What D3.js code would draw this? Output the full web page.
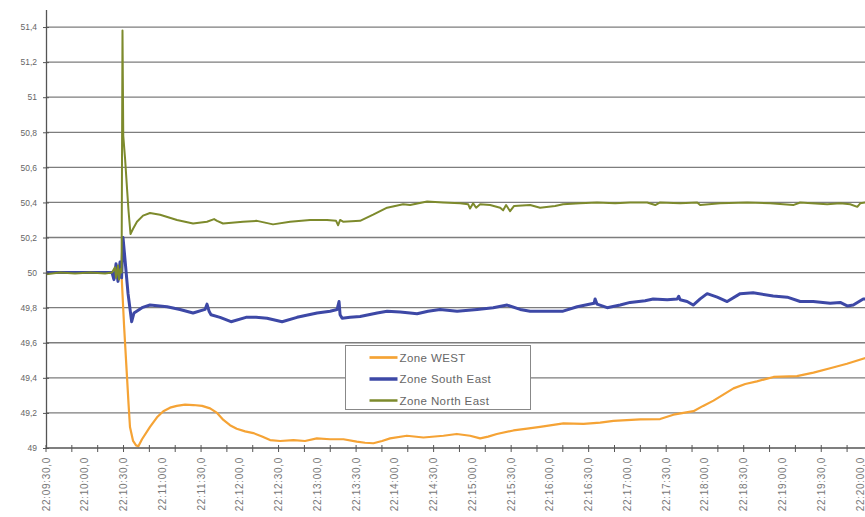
<!DOCTYPE html>
<html>
<head>
<meta charset="utf-8">
<script src="https://cdn.jsdelivr.net/npm/d3@7"></script>
<style>
  html, body { margin: 0; padding: 0; background: #fff; }
  svg { display: block; font-family: Arial, "Liberation Sans", sans-serif; }
</style>
</head>
<body>
<svg id="chart" width="865" height="517"></svg>
<script>
// Grid frequency (Hz) in three zones, seconds after 22:09:30
const seriesNames = ["Zone WEST", "Zone South East", "Zone North East"];
const seriesColors = ["#f5a335", "#3d48a6", "#7d8a2c"];

const westSec = [0, 56.5, 58.6, 60.4, 62.5, 63.9, 65.0, 67.4, 69.7, 71.5, 74.3, 80.5, 85.9, 90.8, 96.0,
  101.2, 107.6, 114.0, 120.8, 127.0, 132.4, 137.3, 142.4, 147.6, 154.1, 160.5, 167.2, 173.4, 181.2,
  191.5, 200.5, 209.6, 219.9, 230.2, 240.5, 246.9, 253.4, 260.1, 266.3, 279.3, 292.1, 307.6, 317.9,
  328.2, 336.0, 342.2, 348.9, 361.8, 372.4, 382.4, 400.5, 416.0, 428.9, 439.2, 459.9, 475.3, 485.6,
  501.1, 508.6, 516.6, 532.1, 541.2, 550.2, 563.1, 581.2, 594.0, 606.9, 619.9, 634.8];
const westHz = [50.0, 50.0, 49.97, 49.7, 49.43, 49.25, 49.12, 49.04, 49.015, 49.01, 49.05, 49.12, 49.175,
  49.21, 49.23, 49.24, 49.247, 49.245, 49.24, 49.226, 49.2, 49.16, 49.13, 49.11, 49.095, 49.085, 49.065,
  49.045, 49.04, 49.045, 49.04, 49.055, 49.05, 49.05, 49.036, 49.03, 49.027, 49.04, 49.055, 49.07, 49.06,
  49.07, 49.08, 49.07, 49.055, 49.065, 49.08, 49.10, 49.11, 49.12, 49.14, 49.137, 49.145, 49.155, 49.163,
  49.165, 49.19, 49.21, 49.24, 49.27, 49.34, 49.365, 49.38, 49.405, 49.41, 49.43, 49.455, 49.48, 49.515];

const southEastSec = [0, 51.1, 52.6, 54.2, 55.7, 57.3, 58.5, 59.6, 61.2, 63.5, 66.3, 68.1, 70.2, 74.3, 80.5,
  93.7, 103.7, 113.8, 123.1, 124.6, 126.2, 127.7, 134.7, 143.2, 154.8, 162.6, 171.1, 182.7, 194.3, 209.8,
  219.9, 225.3, 226.8, 227.6, 229.2, 235.4, 243.1, 256.3, 264.0, 274.1, 281.8, 287.2, 295.7, 305.0, 318.2,
  333.7, 346.1, 356.9, 367.0, 374.7, 390.2, 400.2, 411.1, 424.2, 425.0, 426.5, 434.3, 444.4, 452.1, 463.7,
  469.9, 480.8, 488.5, 489.7, 490.8, 496.2, 500.9, 506.3, 511.7, 519.5, 527.2, 537.3, 547.3, 562.8, 573.7,
  583.7, 593.8, 606.9, 614.7, 620.1, 624.8, 632.5, 634.8];
const southEastHz = [50.0, 50.0, 49.96, 50.05, 49.95, 50.06, 49.97, 50.2, 50.07, 49.88, 49.72, 49.77, 49.78,
  49.80, 49.815, 49.805, 49.79, 49.77, 49.79, 49.82, 49.78, 49.76, 49.745, 49.72, 49.745, 49.745, 49.74,
  49.72, 49.745, 49.77, 49.78, 49.79, 49.835, 49.76, 49.74, 49.745, 49.75, 49.77, 49.78, 49.775, 49.77,
  49.765, 49.78, 49.79, 49.78, 49.79, 49.80, 49.815, 49.79, 49.78, 49.78, 49.78, 49.805, 49.825, 49.85,
  49.82, 49.80, 49.815, 49.83, 49.84, 49.85, 49.845, 49.85, 49.865, 49.845, 49.835, 49.815, 49.85, 49.88,
  49.86, 49.835, 49.88, 49.885, 49.867, 49.86, 49.835, 49.835, 49.825, 49.83, 49.81, 49.815, 49.85, 49.85];

const northEastSec = [0, 10.8, 22.5, 34.1, 45.7, 51.1, 53.4, 54.2, 55.7, 56.5, 57.7, 58.5, 59.2, 59.8, 61.2,
  62.7, 63.9, 65.4, 67.4, 70.4, 75.1, 80.5, 88.3, 101.4, 113.8, 124.6, 130.1, 132.4, 137.0, 152.5, 163.3,
  175.7, 188.9, 204.4, 217.5, 224.5, 226.1, 227.6, 229.9, 243.1, 253.2, 264.0, 276.4, 281.8, 295.0, 307.3,
  320.5, 326.7, 328.2, 330.6, 332.9, 336.0, 343.7, 351.5, 353.8, 356.1, 359.2, 362.3, 374.7, 382.4, 394.0,
  400.2, 413.4, 426.5, 440.5, 452.1, 465.3, 471.5, 475.3, 490.8, 504.0, 506.3, 521.8, 542.7, 560.5, 578.3,
  583.7, 604.6, 614.7, 622.4, 627.9, 630.2, 634.1];
const northEastHz = [49.99, 50.0, 49.995, 50.0, 49.995, 50.0, 50.03, 49.97, 50.04, 49.96, 50.02, 50.0, 51.38,
  50.78, 50.65, 50.48, 50.35, 50.22, 50.25, 50.29, 50.325, 50.34, 50.33, 50.30, 50.28, 50.29, 50.305, 50.295,
  50.28, 50.29, 50.295, 50.275, 50.29, 50.30, 50.30, 50.295, 50.27, 50.30, 50.29, 50.295, 50.33, 50.37, 50.39,
  50.385, 50.405, 50.40, 50.395, 50.39, 50.365, 50.395, 50.37, 50.39, 50.385, 50.37, 50.355, 50.385, 50.35,
  50.38, 50.385, 50.37, 50.38, 50.39, 50.395, 50.40, 50.395, 50.40, 50.40, 50.385, 50.40, 50.395, 50.40,
  50.385, 50.395, 50.40, 50.395, 50.385, 50.40, 50.39, 50.395, 50.39, 50.375, 50.395, 50.40];

const yTicks = [49, 49.2, 49.4, 49.6, 49.8, 50, 50.2, 50.4, 50.6, 50.8, 51, 51.2, 51.4];
const labelStepSec = 30;   // time label every 30 s
const tickStepSec = 20;    // tick mark every 20 s
const axisEndSec = 630;    // 22:20:00

const START = new Date(2006, 10, 4, 22, 9, 30);
const at = s => new Date(START.getTime() + s * 1000);

const svg = d3.select("#chart");
const W = 865;

const x = d3.scaleTime().domain([START, at(axisEndSec)]).range([46, 860]);
const y = d3.scaleLinear().domain([49, 51.5]).range([448, 9.5]);

// horizontal gridlines
svg.append("g")
  .selectAll("line")
  .data(yTicks.filter(v => v > 49))
  .join("line")
  .attr("x1", 46).attr("x2", W)
  .attr("y1", d => y(d)).attr("y2", d => y(d))
  .attr("stroke", "#7d7d7d").attr("stroke-width", 1.3);

// series
const series = [
  { name: seriesNames[0], color: seriesColors[0], w: 2.2, sec: westSec, hz: westHz },
  { name: seriesNames[1], color: seriesColors[1], w: 3, sec: southEastSec, hz: southEastHz },
  { name: seriesNames[2], color: seriesColors[2], w: 2, sec: northEastSec, hz: northEastHz }
];

svg.append("clipPath").attr("id", "plot-clip")
  .append("rect").attr("x", 46).attr("y", 0).attr("width", W - 46).attr("height", 448);

const line = d3.line().x(d => x(d[0])).y(d => y(d[1]));

svg.append("g").attr("clip-path", "url(#plot-clip)")
  .selectAll("path")
  .data(series)
  .join("path")
  .attr("fill", "none")
  .attr("stroke", d => d.color)
  .attr("stroke-width", d => d.w)
  .attr("stroke-linejoin", "round")
  .attr("d", d => line(d.sec.map((s, i) => [at(s), d.hz[i]])));

// y axis
const fmtHz = v => d3.format("~g")(v).replace(".", ",");
const yAxis = svg.append("g")
  .attr("transform", "translate(46,0)")
  .call(d3.axisLeft(y).tickValues(yTicks).tickFormat(fmtHz).tickSizeInner(3).tickSizeOuter(0).tickPadding(6));
yAxis.select(".domain").attr("stroke", "#555").attr("stroke-width", 1.3);
yAxis.selectAll(".tick line").attr("x1", 3).attr("stroke", "#555");
yAxis.selectAll(".tick text").attr("fill", "#666").style("font-size", "8.5px");

// x axis line
svg.append("line").attr("x1", 46).attr("x2", W).attr("y1", 448).attr("y2", 448)
  .attr("stroke", "#555").attr("stroke-width", 1.3);

// x tick marks
const tickTimes = d3.range(0, W, 1).map(s => s * tickStepSec).filter(s => x(at(s)) <= W).map(at);
svg.append("g").selectAll("line")
  .data(tickTimes)
  .join("line")
  .attr("x1", d => x(d)).attr("x2", d => x(d))
  .attr("y1", 445).attr("y2", 452)
  .attr("stroke", "#555").attr("stroke-width", 1);

// x labels, rotated
const labelTimes = d3.range(0, axisEndSec + 1, labelStepSec).map(at);
const fmtTime = d => d3.timeFormat("%H:%M:%S")(d) + ",0";
svg.append("g").selectAll("text")
  .data(labelTimes)
  .join("text")
  .attr("transform", d => `translate(${x(d)},457) rotate(-90)`)
  .attr("text-anchor", "end")
  .attr("dy", "0.35em")
  .attr("fill", "#777")
  .style("font-size", "10px")
  .style("letter-spacing", "0.7px")
  .text(fmtTime);

// legend
const lg = svg.append("g").attr("transform", "translate(345.5,345.5)");
lg.append("rect").attr("width", 185).attr("height", 64)
  .attr("fill", "#fff").attr("stroke", "#888").attr("stroke-width", 1);
const rows = lg.selectAll("g.row").data(series).join("g")
  .attr("class", "row")
  .attr("transform", (d, i) => `translate(0,${12 + i * 21.5})`);
rows.append("line").attr("x1", 24).attr("x2", 52).attr("y1", 0).attr("y2", 0)
  .attr("stroke", d => d.color).attr("stroke-width", d => d.w + 0.5);
rows.append("text").attr("x", 54).attr("dy", "0.35em")
  .attr("fill", "#666").style("font-size", "11.5px").style("letter-spacing", "0.4px")
  .text(d => d.name);
</script>
</body>
</html>
